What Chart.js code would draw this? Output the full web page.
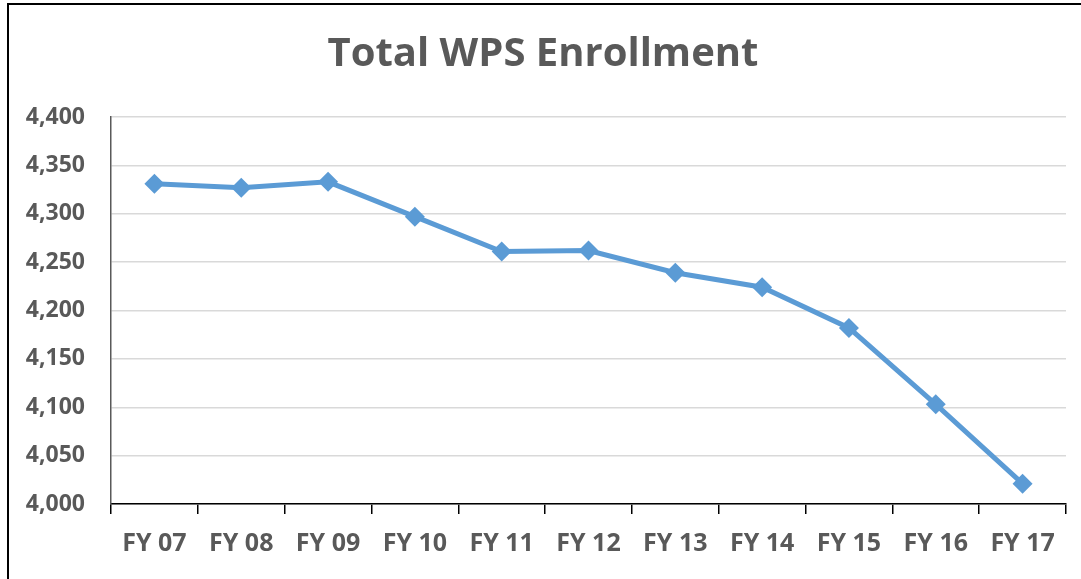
<!DOCTYPE html>
<html>
<head>
<meta charset="utf-8">
<script src="https://cdn.jsdelivr.net/npm/chart.js@4.4.0/dist/chart.umd.min.js"></script>
<style>
    html, body { margin: 0; padding: 0; background: #fff; overflow: hidden; }
    #wrap { position: relative; width: 1081px; height: 579px; }
    #frame {
        position: absolute; left: 7px; top: 3px; width: 1200px; height: 700px;
        border: 2px solid #000; pointer-events: none;
    }
</style>
</head>
<body>
<div id="wrap">
    <canvas id="lineChart" width="1081" height="579"></canvas>
    <div id="frame"></div>
</div>
<script>
    // data
    const fiscalYears = ['FY 07', 'FY 08', 'FY 09', 'FY 10', 'FY 11', 'FY 12', 'FY 13', 'FY 14', 'FY 15', 'FY 16', 'FY 17'];
    const enrollment = [4331, 4327, 4333, 4297, 4261, 4262, 4239, 4224, 4182, 4103, 4021];
    const yTicks = [4000, 4050, 4100, 4150, 4200, 4250, 4300, 4350, 4400];

    const grey = '#595959';
    const blue = '#5B9BD5';

    var ctx = document.getElementById('lineChart').getContext('2d');
    new Chart(ctx, {
        type: 'line',
        data: {
            labels: fiscalYears,
            datasets: [{
                label: 'Total WPS Enrollment',
                data: enrollment,
                borderColor: blue,
                backgroundColor: blue,
                borderWidth: 5,
                pointStyle: 'rectRot',
                pointRadius: 10,
                pointBorderWidth: 0,
                pointBackgroundColor: blue,
                tension: 0
            }]
        },
        options: {
            responsive: false,
            animation: false,
            devicePixelRatio: 1,
            layout: { padding: { left: 20, right: 15, top: 0, bottom: 0 } },
            plugins: {
                legend: { display: false },
                tooltip: { enabled: false },
                title: {
                    display: true,
                    text: 'Total WPS Enrollment',
                    color: grey,
                    font: { family: 'Open Sans', size: 40, weight: 'bold', lineHeight: 1.2 },
                    padding: { top: 31, bottom: 38 }
                }
            },
            scales: {
                x: {
                    offset: true,
                    afterFit: function (scale) { scale.height = 75; },
                    grid: {
                        offset: true,
                        drawOnChartArea: false,
                        drawTicks: true,
                        tickLength: 10,
                        color: '#000',
                        lineWidth: 1.5
                    },
                    border: { color: '#000', width: 1.5 },
                    ticks: {
                        color: grey,
                        padding: 15,
                        maxRotation: 0,
                        font: { family: 'Open Sans', size: 25, weight: 'bold' }
                    }
                },
                y: {
                    min: 4000,
                    max: 4400,
                    afterFit: function (scale) { scale.width = 91; },
                    afterBuildTicks: function (scale) {
                        scale.ticks = yTicks.map(v => ({ value: v }));
                    },
                    grid: {
                        drawTicks: false,
                        color: '#D9D9D9',
                        lineWidth: 1.5
                    },
                    border: { color: grey, width: 1.5 },
                    ticks: {
                        color: grey,
                        padding: 26,
                        font: { family: 'Open Sans', size: 23, weight: 'bold' },
                        callback: function (value) { return value.toLocaleString('en-US'); }
                    }
                }
            }
        }
    });
</script>
</body>
</html>
